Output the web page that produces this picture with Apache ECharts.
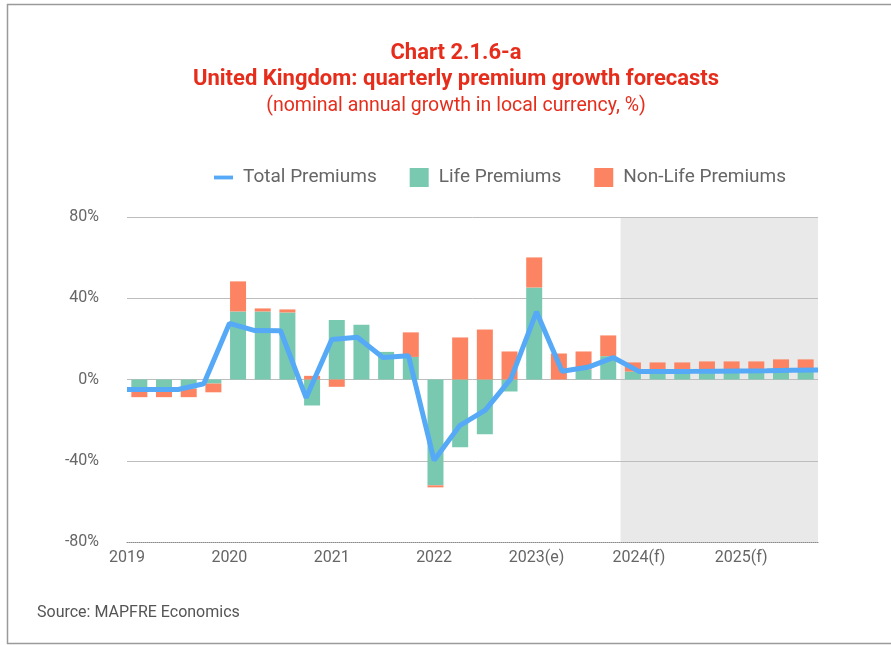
<!DOCTYPE html>
<html>
<head>
<meta charset="utf-8">
<script src="https://cdn.jsdelivr.net/npm/echarts@6/dist/echarts.min.js"></script>
<style>
  html, body { margin: 0; padding: 0; background: #fff; }
  #chart { width: 891px; height: 645px; }
</style>
</head>
<body>
<div id="chart"></div>
<script>
// Quarterly premium growth, United Kingdom (nominal annual growth, %)
const quarters = [
  '2019-Q1', '2019-Q2', '2019-Q3', '2019-Q4',
  '2020-Q1', '2020-Q2', '2020-Q3', '2020-Q4',
  '2021-Q1', '2021-Q2', '2021-Q3', '2021-Q4',
  '2022-Q1', '2022-Q2', '2022-Q3', '2022-Q4',
  '2023-Q1', '2023-Q2', '2023-Q3', '2023-Q4',
  '2024-Q1', '2024-Q2', '2024-Q3', '2024-Q4',
  '2025-Q1', '2025-Q2', '2025-Q3', '2025-Q4'
];
const yearLabels = ['2019', '2020', '2021', '2022', '2023(e)', '2024(f)', '2025(f)'];

const totalPremiums = [
  -4.9, -4.9, -4.9, -2.1,
  27.6, 24.1, 24.0, -9.0,
  19.7, 20.8, 10.8, 11.7,
  -39.8, -22.7, -15.1, 0.3,
  33.3, 4.1, 6.0, 10.8,
  4.0, 4.0, 4.0, 4.1,
  4.2, 4.3, 4.5, 4.7
];
const lifePremiums = [
  -4.5, -4.5, -4.5, -2.0,
  33.5, 33.5, 33.0, -12.8,
  29.3, 26.9, 13.6, 11.1,
  -52.1, -33.3, -26.9, -5.9,
  45.3, 0, 4.9, 11.5,
  3.9, 3.9, 3.9, 3.9,
  3.9, 3.9, 4.2, 4.2
];
const nonLifePremiums = [
  -4.2, -4.2, -4.2, -4.3,
  14.8, 1.5, 1.5, 1.8,
  -3.6, 0, 0, 12.1,
  -1.0, 20.7, 24.6, 13.8,
  14.8, 12.8, 8.9, 10.2,
  4.5, 4.5, 4.5, 5.0,
  5.0, 5.0, 5.7, 5.7
];

const yMin = -80, yMax = 80, yStep = 40;
const forecastStart = 20; // first forecast quarter (2024-Q1)

const FONT = 'Roboto, "Noto Sans", "DejaVu Sans", sans-serif';
const RED = '#e62d1c';
const BLUE = '#55a9f7';
const GREEN = '#78c9b0';
const ORANGE = '#fc8462';

const chart = echarts.init(document.getElementById('chart'), null, { renderer: 'canvas' });

chart.setOption({
  animation: false,
  backgroundColor: '#ffffff',
  textStyle: { fontFamily: FONT },
  grid: { left: 127, right: 73, top: 217, bottom: 103 },
  legend: {
    left: 209,
    top: 163,
    itemWidth: 19,
    itemHeight: 19,
    itemGap: 33,
    textStyle: { fontSize: 19, color: '#666', fontFamily: FONT, padding: [0, 0, 0, 5] },
    data: [
      { name: 'Total Premiums', icon: 'path://M0,0H20V4H0Z' },
      { name: 'Life Premiums', icon: 'rect' },
      { name: 'Non-Life Premiums', icon: 'rect' }
    ]
  },
  xAxis: [
    { type: 'category', data: quarters, boundaryGap: true, show: false },
    {
      type: 'category',
      data: quarters,
      boundaryGap: false,
      position: 'bottom',
      axisLine: { lineStyle: { color: '#8a8a8a', type: 'dotted', width: 1 } },
      axisTick: { show: false },
      splitLine: { show: false },
      axisLabel: {
        interval: 0,
        color: '#666',
        fontSize: 16,
        margin: 8,
        formatter: (v, i) => (i % 4 === 0 ? yearLabels[i / 4] : '')
      }
    },
    { type: 'value', min: 0, max: quarters.length, show: false }
  ],
  yAxis: {
    type: 'value',
    min: yMin,
    max: yMax,
    interval: yStep,
    axisLine: { show: false },
    axisTick: { show: false },
    axisLabel: { formatter: '{value}%', color: '#666', fontSize: 16, margin: 28 },
    splitLine: { showMinLine: false, lineStyle: { color: '#bdbdbd', width: 1 } }
  },
  series: [
    {
      name: 'forecast',
      type: 'line',
      xAxisIndex: 2,
      data: [],
      z: -1,
      silent: true,
      markArea: {
        silent: true,
        z: -1,
        itemStyle: { color: '#e9e9e9' },
        data: [[{ xAxis: forecastStart }, { xAxis: quarters.length }]]
      }
    },
    {
      name: 'Life Premiums',
      type: 'bar',
      stack: 'premiums',
      xAxisIndex: 0,
      barWidth: 16,
      data: lifePremiums,
      itemStyle: { color: GREEN }
    },
    {
      name: 'Non-Life Premiums',
      type: 'bar',
      stack: 'premiums',
      xAxisIndex: 0,
      barWidth: 16,
      data: nonLifePremiums,
      itemStyle: { color: ORANGE }
    },
    {
      name: 'Total Premiums',
      type: 'line',
      xAxisIndex: 1,
      data: totalPremiums,
      symbol: 'none',
      z: 5,
      lineStyle: { width: 5, color: BLUE },
      itemStyle: { color: BLUE }
    }
  ],
  graphic: [
    {
      type: 'rect',
      shape: { x: 7.5, y: 4.5, width: 950, height: 639 },
      style: { fill: 'none', stroke: '#9a9a9a', lineWidth: 1.5 },
      silent: true
    },
    {
      type: 'text',
      x: 456, y: 53,
      style: { text: 'Chart 2.1.6-a', font: 'bold 22px ' + FONT, fill: RED, align: 'center', verticalAlign: 'middle' }
    },
    {
      type: 'text',
      x: 456, y: 79,
      style: { text: 'United Kingdom: quarterly premium growth forecasts', font: 'bold 22px ' + FONT, fill: RED, align: 'center', verticalAlign: 'middle' }
    },
    {
      type: 'text',
      x: 456, y: 106,
      style: { text: '(nominal annual growth in local currency, %)', font: '19.5px ' + FONT, fill: RED, align: 'center', verticalAlign: 'middle' }
    },
    {
      type: 'text',
      x: 37, y: 613,
      style: { text: 'Source: MAPFRE Economics', font: '16px ' + FONT, fill: '#555', align: 'left', verticalAlign: 'middle' }
    }
  ]
});
</script>
</body>
</html>
